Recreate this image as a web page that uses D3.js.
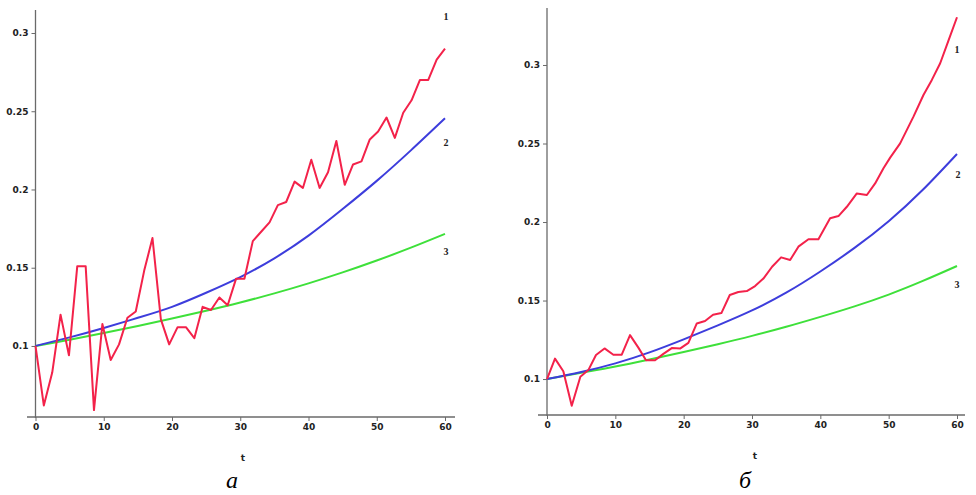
<!DOCTYPE html>
<html><head><meta charset="utf-8">
<script src="https://cdn.jsdelivr.net/npm/d3@7/dist/d3.min.js"></script>
<style>body{margin:0;background:#fff}svg{display:block}</style>
</head><body>
<svg id="c" width="976" height="495"></svg>
<script>
// ---------- data ----------
const xTicks = [0, 10, 20, 30, 40, 50, 60];
const yTicks = [0.1, 0.15, 0.2, 0.25, 0.3];
const yTickLabels = ["0.1", "0.15", "0.2", "0.25", "0.3"];
const curveLabels = ["1", "2", "3"];
const captions = ["а", "б"];
const axisTitle = "t";

const smoothT = [0, 5, 10, 15, 20, 25, 30, 35, 40, 45, 50, 55, 60];

const leftRedT = [0, 1.22, 2.45, 3.67, 4.90, 6.12, 7.35, 8.57, 9.80, 11.02, 12.24, 13.47, 14.69, 15.92, 17.14,
  18.37, 19.59, 20.82, 22.04, 23.27, 24.49, 25.71, 26.94, 28.16, 29.39, 30.61, 31.84, 33.06, 34.29, 35.51,
  36.73, 37.96, 39.18, 40.41, 41.63, 42.86, 44.08, 45.31, 46.53, 47.76, 48.98, 50.20, 51.43, 52.65, 53.88,
  55.10, 56.33, 57.55, 58.78, 60.00];
const leftRed = [0.100, 0.062, 0.083, 0.120, 0.094, 0.151, 0.151, 0.059, 0.114, 0.091, 0.101, 0.118, 0.122, 0.148, 0.169,
  0.117, 0.101, 0.112, 0.112, 0.105, 0.125, 0.123, 0.131, 0.126, 0.143, 0.143, 0.167, 0.173, 0.179, 0.190,
  0.192, 0.205, 0.201, 0.219, 0.201, 0.211, 0.231, 0.203, 0.216, 0.218, 0.232, 0.237, 0.246, 0.233, 0.249,
  0.257, 0.270, 0.270, 0.283, 0.290];
const leftBlue = [0.100, 0.1055, 0.1115, 0.118, 0.125, 0.134, 0.144, 0.156, 0.1705, 0.1875, 0.2055, 0.225, 0.2455];
const leftGreen = [0.100, 0.104, 0.1083, 0.1128, 0.1175, 0.1225, 0.1278, 0.1336, 0.1400, 0.1470, 0.1546, 0.1628, 0.1716];

const rightRedT = [0, 1.17, 2.39, 3.62, 4.88, 6.05, 7.17, 8.42, 9.71, 10.94, 12.15, 13.37, 14.49, 15.81, 17.03,
  18.26, 19.52, 20.69, 21.92, 23.13, 24.30, 25.52, 26.75, 28.00, 29.24, 30.45, 31.67, 32.94, 34.26, 35.58,
  36.79, 38.26, 39.72, 41.43, 42.65, 43.88, 45.34, 46.81, 48.02, 49.24, 50.22, 51.68, 53.63, 55.09, 56.32,
  57.54, 58.71, 60.00];
const rightRed = [0.100, 0.113, 0.105, 0.083, 0.1015, 0.1057, 0.1153, 0.1195, 0.1155, 0.1155, 0.128, 0.120, 0.112, 0.112, 0.116,
  0.1197, 0.1195, 0.123, 0.1354, 0.137, 0.141, 0.142, 0.1535, 0.1554, 0.156, 0.1592, 0.164, 0.1715, 0.1775, 0.1758,
  0.1843, 0.189, 0.189, 0.2024, 0.2038, 0.2097, 0.2182, 0.2172, 0.2246, 0.2342, 0.241, 0.2501, 0.2671, 0.2809, 0.2905,
  0.3011, 0.315, 0.3304];
const rightBlue = [0.100, 0.1045, 0.110, 0.117, 0.1253, 0.1342, 0.1437, 0.155, 0.1685, 0.1835, 0.2005, 0.2205, 0.2433];
const rightGreen = [0.100, 0.104, 0.108, 0.1125, 0.1172, 0.1222, 0.1275, 0.1333, 0.1396, 0.1463, 0.1538, 0.1625, 0.1720];

// ---------- layout ----------
const panels = [
  { x0: 35.5, x1: 445, yTop: 10, yBot: 417, vTop: 0.3147, vBot: 0.0546, axFrom: 27, axTo: 455,
    red: [leftRedT, leftRed], blue: leftBlue, green: leftGreen,
    lab: [[446, 20], [446, 146], [446, 255]], title: [243, 461], cap: [232, 488], capText: captions[0] },
  { x0: 547, x1: 957, yTop: 8, yBot: 415, vTop: 0.3363, vBot: 0.0771, axFrom: 538, axTo: 965,
    red: [rightRedT, rightRed], blue: rightBlue, green: rightGreen,
    lab: [[957, 53], [958, 178], [957, 288]], title: [755, 459], cap: [745, 488], capText: captions[1] }
];

const colors = { red: "#f3224a", blue: "#3d3ddc", green: "#3ee03a" };
const svg = d3.select("#c");

panels.forEach(p => {
  const x = d3.scaleLinear().domain([0, 60]).range([p.x0, p.x1]);
  const y = d3.scaleLinear().domain([p.vBot, p.vTop]).range([p.yBot, p.yTop]);
  const g = svg.append("g");

  // axes lines
  g.append("line").attr("x1", x(0)).attr("x2", x(0)).attr("y1", p.yTop).attr("y2", p.yBot + 1)
    .attr("stroke", "#6a6a6a").attr("stroke-width", 1.3);
  g.append("line").attr("x1", p.axFrom).attr("x2", p.axTo).attr("y1", p.yBot).attr("y2", p.yBot)
    .attr("stroke", "#6a6a6a").attr("stroke-width", 1.3);

  const yAx = g.append("g").attr("transform", `translate(${x(0)},0)`)
    .call(d3.axisLeft(y).tickValues(yTicks).tickSize(4).tickPadding(3)
      .tickFormat((d, i) => yTickLabels[i]));
  const xAx = g.append("g").attr("transform", `translate(0,${p.yBot})`)
    .call(d3.axisBottom(x).tickValues(xTicks).tickSize(4).tickPadding(3));
  [yAx, xAx].forEach(a => {
    a.select(".domain").remove();
    a.selectAll("line").attr("stroke", "#6a6a6a");
    a.selectAll("text").attr("fill", "#222").style("font-family", "'DejaVu Sans'")
      .style("font-size", "9px").style("font-weight", "bold");
  });

  const lineSmooth = d3.line().x((d, i) => x(smoothT[i])).y(d => y(d)).curve(d3.curveNatural);
  g.append("path").attr("d", lineSmooth(p.green)).attr("fill", "none")
    .attr("stroke", colors.green).attr("stroke-width", 2);
  g.append("path").attr("d", lineSmooth(p.blue)).attr("fill", "none")
    .attr("stroke", colors.blue).attr("stroke-width", 2);
  const lineRed = d3.line().x((d, i) => x(p.red[0][i])).y(d => y(d));
  g.append("path").attr("d", lineRed(p.red[1])).attr("fill", "none")
    .attr("stroke", colors.red).attr("stroke-width", 2).attr("stroke-linejoin", "round");

  curveLabels.forEach((t, i) => {
    g.append("text").attr("x", p.lab[i][0]).attr("y", p.lab[i][1]).text(t)
      .attr("text-anchor", "middle").attr("fill", "#222")
      .style("font-family", "'Liberation Serif'").style("font-size", "10px").style("font-weight", "bold");
  });
  g.append("text").attr("x", p.title[0]).attr("y", p.title[1]).text(axisTitle)
    .attr("text-anchor", "middle").attr("fill", "#222")
    .style("font-family", "'DejaVu Sans'").style("font-size", "9px").style("font-weight", "bold");
  g.append("text").attr("x", p.cap[0]).attr("y", p.cap[1]).text(p.capText)
    .attr("text-anchor", "middle").attr("fill", "#000")
    .style("font-family", "'Liberation Serif'").style("font-size", "24px").style("font-style", "italic");
});
</script>
</body></html>
